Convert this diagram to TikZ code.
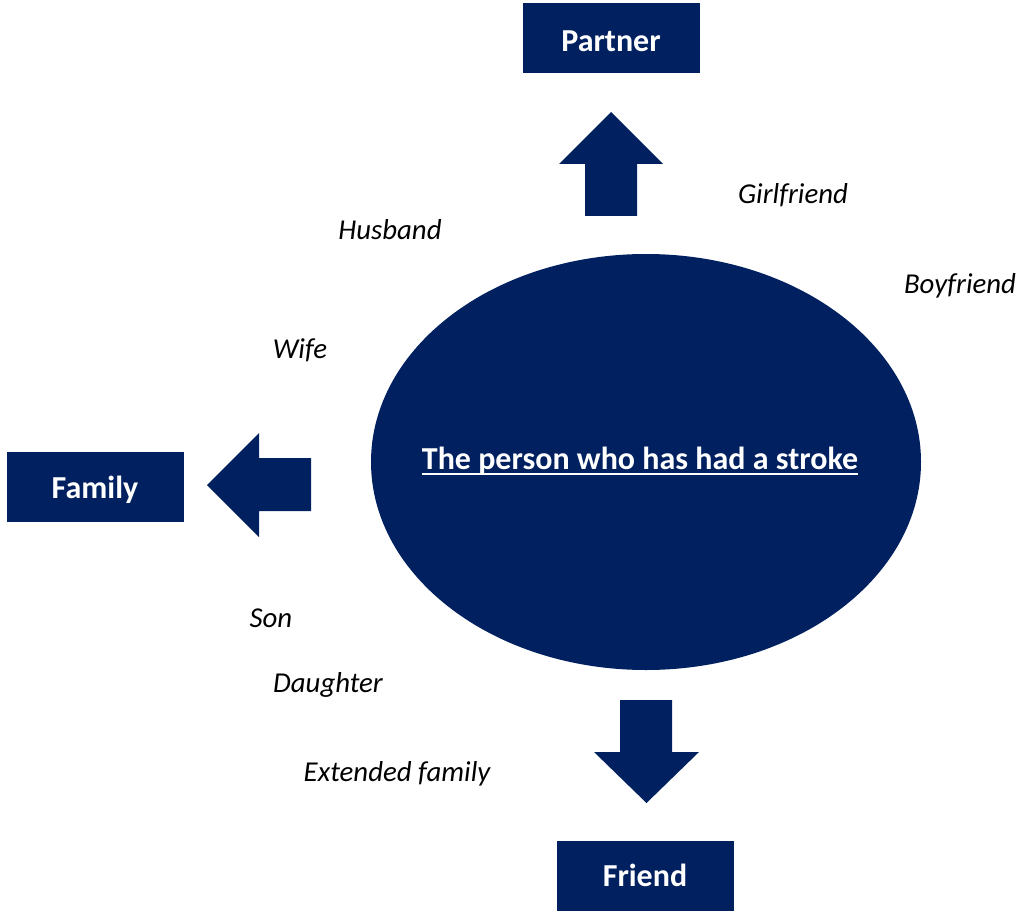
\documentclass[tikz,border=0pt]{standalone}
\usepackage{fontspec}
\setmainfont{Carlito}
\definecolor{navy}{HTML}{002060}
\begin{document}
\begin{tikzpicture}[x=1pt,y=-1pt,
  box/.style={fill=navy,draw=none,minimum width=177pt,minimum height=70pt,inner sep=0pt},
  boxtext/.style={text=white,font=\fontsize{32}{36}\selectfont\bfseries,anchor=base,inner sep=0pt},
  lbl/.style={font=\fontsize{28.8}{32}\selectfont\itshape,anchor=base,inner sep=0pt},
  blockarrow/.style={fill=navy,draw=none}]
\useasboundingbox (0,0) rectangle (1020,912);
% boxes
\node[box] (partner) at (611.5,38.5) {};
\node[boxtext] (partnert) at (611,51.5) {Partner};
\node[box] (family) at (95.5,486.5) {};
\node[boxtext] (familyt) at (95,498.5) {Family};
\node[box] (friend) at (645.5,875.5) {};
\node[boxtext] (friendt) at (645,886.5) {Friend};
% ellipse
\fill[navy] (646,462) ellipse [x radius=275, y radius=208];
\node[boxtext] (stroke) at (640,469.5) {The person who has had a stroke};
\draw[white,line width=2pt] ([yshift=-4pt]stroke.base west) -- ([yshift=-4pt]stroke.base east);
% arrows
\fill[blockarrow] (585,216) -- (585,164) -- (559,164) -- (611,112) -- (663,164) -- (637,164) -- (637,216) -- cycle;
\fill[blockarrow] (311,458) -- (259,458) -- (259,433) -- (207,485) -- (259,537) -- (259,511) -- (311,511) -- cycle;
\fill[blockarrow] (620,700) -- (672,700) -- (672,752) -- (699,752) -- (646.5,803) -- (594,752) -- (620,752) -- cycle;
% labels
\node[lbl] (girl) at (793,203.5) {Girlfriend};
\node[lbl] (husb) at (390,239.5) {Husband};
\node[lbl] (boy) at (960,293.5) {Boyfriend};
\node[lbl] (wife) at (300,358.5) {Wife};
\node[lbl] (son) at (271,627.5) {Son};
\node[lbl] (daug) at (328,692.5) {Daughter};
\node[lbl] (ext) at (397,781.5) {Extended family};
\end{tikzpicture}
\end{document}
